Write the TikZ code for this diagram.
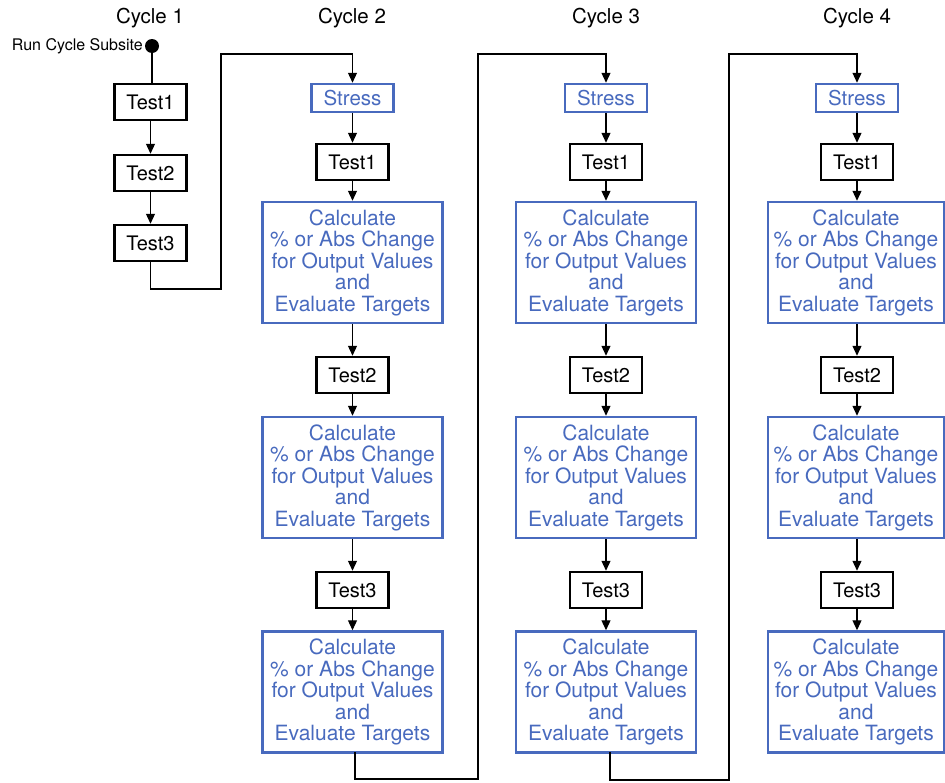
\documentclass[tikz,border=0pt]{standalone}
\usepackage{fontspec}
\setmainfont{TeX Gyre Heros}
\usetikzlibrary{arrows.meta}
\definecolor{bl}{RGB}{72,106,190}
\begin{document}
\begin{tikzpicture}[x=1pt,y=-1pt,
  tbox/.style={draw=black,line width=2.5pt,minimum width=72pt,minimum height=36pt,inner sep=0pt,font=\fontsize{20}{21}\selectfont},
  sbox/.style={draw=bl,text=bl,line width=2.5pt,minimum width=82pt,minimum height=28pt,inner sep=0pt,font=\fontsize{20.5}{21}\selectfont},
  cbox/.style={draw=bl,text=bl,line width=2.5pt,minimum width=180pt,minimum height=121pt,inner sep=0pt,align=center,font=\fontsize{21}{21.5}\selectfont},
  title/.style={font=\fontsize{20.5}{22}\selectfont,inner sep=0pt},
  conn/.style={line width=1.2pt,-{Triangle[length=10pt,width=9pt]}},
  line/.style={line width=1.2pt}]
\useasboundingbox (0,0) rectangle (945,782);
\newcommand{\calctext}{Calculate\\\% or Abs Change\\for Output Values\\and\\Evaluate Targets}
% titles
\node[title] (t1) at (150,18) {Cycle 1};
\node[title] (t2) at (352,18) {Cycle 2};
\node[title] (t3) at (606,18) {Cycle 3};
\node[title] (t4) at (857,18) {Cycle 4};
% cycle 1
\node[circle,fill=black,inner sep=0pt,minimum size=14pt] (dot) at (152,46) {};
\node[anchor=east,inner sep=0pt,font=\fontsize{16}{18}\selectfont] (run) at (143,46) {Run Cycle Subsite};
\node[tbox] (a1) at (150.5,102) {Test1};
\node[tbox] (a2) at (150.5,173) {Test2};
\node[tbox] (a3) at (150.5,243) {Test3};
\draw[line] (dot.center) -- (dot.center |- a1.north);
\draw[conn] (a1) -- (a2);
\draw[conn] (a2) -- (a3);
% cycles 2-4
\foreach \n/\x/\cx/\cw in {b/352.5/352.5/180, c/606/606/180, d/857/856/176}{
  \node[sbox] (\n s) at (\x,98) {Stress};
  \node[tbox] (\n t1) at (\x,162) {Test1};
  \node[cbox,minimum width=\cw pt] (\n c1) at (\cx,262.5) {\calctext};
  \node[tbox] (\n t2) at (\x,375) {Test2};
  \node[cbox,minimum width=\cw pt] (\n c2) at (\cx,477.5) {\calctext};
  \node[tbox] (\n t3) at (\x,590) {Test3};
  \node[cbox,minimum width=\cw pt] (\n c3) at (\cx,692) {\calctext};
  \draw[conn] (\n s) -- (\n t1);
  \draw[conn] (\n t1) -- (\n t1 |- \n c1.north);
  \draw[conn] (\n t1 |- \n c1.south) -- (\n t2);
  \draw[conn] (\n t2) -- (\n t2 |- \n c2.north);
  \draw[conn] (\n t2 |- \n c2.south) -- (\n t3);
  \draw[conn] (\n t3) -- (\n t3 |- \n c3.north);
}
% links between cycles
\coordinate (k1) at (221,289);
\coordinate (k2) at (221,54);
\draw[conn] (a3.south) |- (k1) -- (k2) -| (bs.north);
\coordinate (m0) at (355,752);
\coordinate (m1) at (478,779);
\coordinate (m2) at (478,54);
\draw[conn] (m0) |- (m1) -- (m2) -| (cs.north);
\coordinate (n0) at (610,752);
\coordinate (n1) at (729,780);
\coordinate (n2) at (729,54);
\draw[conn] (n0) |- (n1) -- (n2) -| (ds.north);
\end{tikzpicture}
\end{document}
